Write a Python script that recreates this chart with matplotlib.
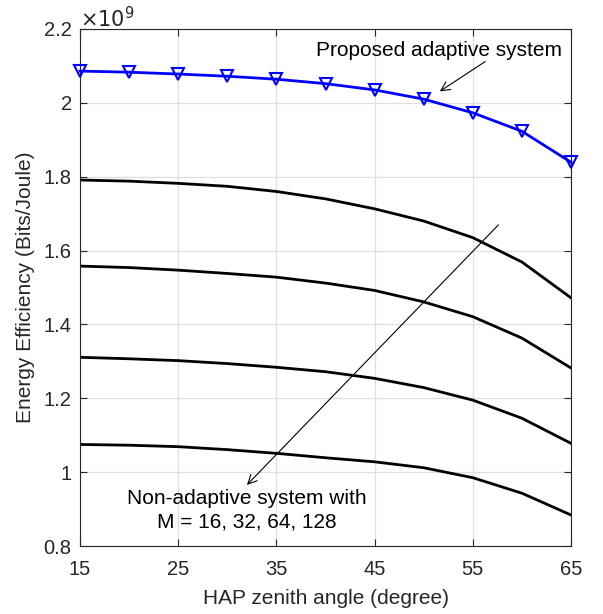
import matplotlib
matplotlib.use("Agg")
import matplotlib.pyplot as plt

plt.rcParams['font.family'] = ['Liberation Sans', 'DejaVu Sans']

# HAP zenith angle (degree)
angle = [15, 20, 25, 30, 35, 40, 45, 50, 55, 60, 65]

# Energy efficiency, in units of 1e9 bits/joule
adaptive = [2.086, 2.083, 2.078, 2.072, 2.064, 2.052, 2.035, 2.010, 1.973, 1.923, 1.839]
m16 = [1.791, 1.788, 1.782, 1.774, 1.760, 1.740, 1.713, 1.680, 1.635, 1.569, 1.472]
m32 = [1.558, 1.554, 1.547, 1.538, 1.528, 1.512, 1.492, 1.461, 1.421, 1.363, 1.282]
m64 = [1.311, 1.307, 1.302, 1.294, 1.284, 1.272, 1.254, 1.229, 1.195, 1.146, 1.078]
m128 = [1.075, 1.073, 1.069, 1.061, 1.051, 1.039, 1.028, 1.012, 0.985, 0.943, 0.884]

fig = plt.figure(figsize=(6.03, 6.14), dpi=100)
ax = fig.add_axes([0.1327, 0.1107, 0.8143, 0.8421])

ax.plot(angle, adaptive, color='blue', lw=2, marker='v', ms=8,
        markerfacecolor='none', markeredgewidth=1.5, clip_on=False, zorder=5)
for series in [m16, m32, m64, m128]:
    ax.plot(angle, series, color='black', lw=2)

ax.set_xlim(15, 65)
ax.set_ylim(0.8, 2.2)
ax.set_xticks([15, 25, 35, 45, 55, 65])
ax.set_yticks([0.8, 1, 1.2, 1.4, 1.6, 1.8, 2, 2.2])
ax.set_yticklabels(['0.8', '1', '1.2', '1.4', '1.6', '1.8', '2', '2.2'])
ax.grid(True, color='#dfdfdf', lw=0.9)
ax.set_axisbelow(True)
ax.tick_params(direction='in', top=True, right=True, labelsize=14.5,
               length=5, width=0.8, colors='#262626')
ax.tick_params(axis='x', pad=10)
ax.tick_params(axis='y', pad=6)
for s in ax.spines.values():
    s.set_color('#262626')
    s.set_linewidth(0.8)

ax.set_xlabel('HAP zenith angle (degree)', fontsize=15, color='#262626',
              labelpad=7)
ax.set_ylabel('Energy Efficiency (Bits/Joule)', fontsize=15, color='#262626',
              labelpad=6)
ax.text(0, 0.995, r'$\times10^{9}$', transform=ax.transAxes, fontsize=15,
        color='#262626', va='bottom', ha='left')

ax.annotate('', xy=(51.4, 2.027), xytext=(56.5, 2.116),
            arrowprops=dict(arrowstyle='->', color='black', lw=0.8,
                            mutation_scale=16))
ax.text(51.6, 2.143, 'Proposed adaptive system', fontsize=15,
        ha='center', va='center')

ax.annotate('', xy=(31.8, 0.960), xytext=(57.8, 1.675),
            arrowprops=dict(arrowstyle='->', color='black', lw=0.8,
                            mutation_scale=16))
ax.text(32.0, 0.897, 'Non-adaptive system with\nM = 16, 32, 64, 128',
        fontsize=15, ha='center', va='center', linespacing=1.25)

fig.savefig('out.png', dpi=100)
